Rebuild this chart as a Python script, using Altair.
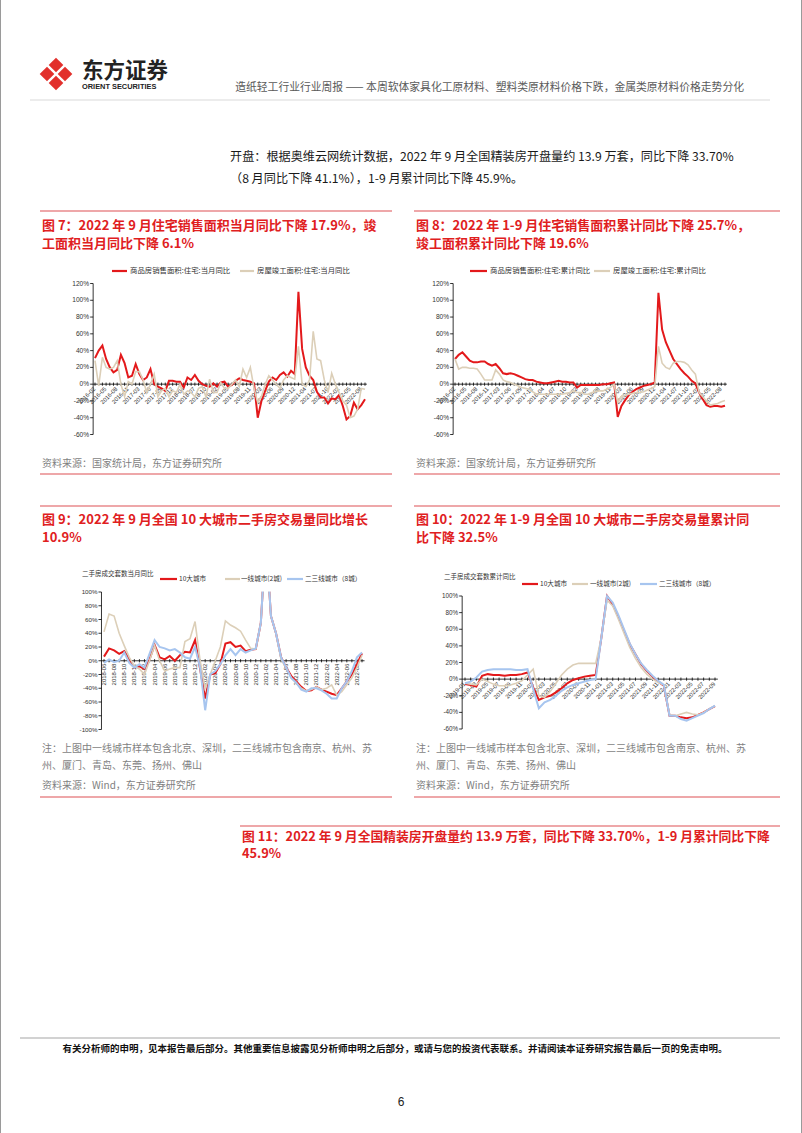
import altair as alt
import pandas as pd

W, H = 802, 1133
CJK = "Noto Sans CJK SC"
LAT = "Liberation Sans, Noto Sans CJK SC"
RED = "#e3191b"
TAN = "#dccfb8"
BLUE = "#a7c5ef"
TRED = "#e0201e"
PINK = "#e98a8c"
GRAY = "#7f7f7f"

# ---------------- data ----------------
# Fig 7 / Fig 8: monthly, 2016-02 .. 2022-09 (January merged into February)
fig7_sales = [31, 40, 46, 30, 20, 14, 17, 35, 25, 8, 10,
              24, 12, 5, 8, 18, 0, -3, -5, -8, 4, 4,
              3, 3, -4, 8, 5, 11, 4, 0, -2, -3, 1,
              -3, 2, 3, -3, -1, 4, 7, 5, 4, 3, 1,
              -40, -20, -8, 3, 8, 5, 11, 14, 9, 16, 12,
              110, 42, 20, 10, 5, -9, -16, -16, -23, -17, -18,
              -13, -26, -42, -38, -22, -30, -25, -17.9]
fig7_compl = [28, -2, 32, 20, 18, 20, 28, 0, -15, 3, 0,
              15, 15, 5, -10, 0, 12, -15, -8, -5, -15, -8,
              -10, 0, -12, -8, -10, -15, -5, -3, -15, 6, -10,
              -10, 2, -5, -5, 0, 5, -3, 18, 8, 20, -5,
              -22, -15, 0, 10, 5, 0, -5, 5, 10, 8, 6,
              45, 0, -3, 5, 63, 30, 28, 5, -10, 13, 0,
              -10, -20, -25, -40, -38, -30, -5, -6.1]
fig8_sales = [30, 35, 38, 33, 28, 26, 26, 27, 27, 24, 22,
              24, 19, 13, 12, 13, 12, 10, 8, 6, 5, 5,
              3, 2, 1, 1, 2, 3, 4, 3, 3, 2, 2,
              -4, -1, -1, -1, -1, -1, -1, 0, 0, 1, 2,
              -39, -26, -19, -13, -9, -6, -4, -2, -1, 0, 2,
              109, 65, 50, 40, 30, 24, 18, 13, 9, 4, 1,
              -10, -18, -25, -27, -26, -26, -27, -25.7]
fig8_compl = [30, 18, 20, 20, 19, 19, 18, 12, 5, 5, 5,
              17, 12, 5, 3, 2, 0, -2, -4, -5, -6, -9,
              -12, -12, -12, -12, -12, -12, -12, -12, -11, -10, -8,
              -10, -10, -12, -12, -10, -9, -8, -8, -6, -4, 0,
              -22, -15, -13, -12, -11, -10, -10, -9, -7, -5, -3,
              45, 25, 20, 18, 25, 27, 27, 26, 23, 17, 12,
              -10, -15, -20, -25, -24, -23, -21, -19.6]
fig78_label_idx = list(range(0, 74, 3))
fig78_labels = ["2016-02", "2016-05", "2016-08", "2016-11", "2017-03", "2017-06",
                "2017-09", "2017-12", "2018-04", "2018-07", "2018-10", "2019-02",
                "2019-05", "2019-08", "2019-11", "2020-03", "2020-06", "2020-09",
                "2020-12", "2021-04", "2021-07", "2021-10", "2022-02", "2022-05",
                "2022-08"]

# Fig 9: monthly 2018-06 .. 2022-09
fig9_top10 = [6, 18, 15, 10, 14, 2, -10, -8, -12, 2, 23, 5, 2, 7, 0, 8, 13, 12, 30, -12,
              -55, -20, -18, -5, 25, 27, 20, 22, 14, 16, 17, 55, 180, 65, 40, 5, -10, -22,
              -30, -38, -44, -43, -38, -42, -45, -48, -50, -40, -30, -20, -5, 10.9]
fig9_tier1 = [42, 68, 65, 40, 22, 5, -8, -12, -20, 0, 22, 0, -15, -12, -10, -10, 28, 32, 57, 0,
              -40, -20, 0, 20, 58, 52, 48, 43, 30, 18, 17, 55, 180, 65, 40, 2, -10, -25,
              -32, -40, -44, -42, -38, -42, -40, -35, -50, -45, -35, -25, -10, 8]
fig9_tier23 = [-3, 2, -2, 0, 12, -3, -10, -5, -10, 10, 30, 20, 18, 15, 17, 12, 5, 3, 20, -10,
               -72, -20, -15, -5, 8, 17, 8, 17, 12, 15, 18, 55, 180, 65, 40, 5, -10, -25,
               -32, -42, -45, -40, -40, -43, -48, -55, -55, -40, -30, -15, 5, 12]
fig9_label_idx = list(range(0, 52, 2))
fig9_labels = ["2018-06", "2018-08", "2018-10", "2018-12", "2019-02", "2019-04", "2019-06",
               "2019-08", "2019-10", "2019-12", "2020-02", "2020-04", "2020-06", "2020-08",
               "2020-10", "2020-12", "2021-02", "2021-04", "2021-06", "2021-08", "2021-10",
               "2021-12", "2022-02", "2022-04", "2022-06", "2022-08"]

# Fig 10: cumulative, 2019-01 .. 2022-09
fig10_top10 = [-6, -7, -9, 4, 6, 5, 5, 4, 5, 5, 6, 8,
               -10, -25, -22, -20, -16, -11, -5, -1, 1, 3, 4, 5,
               50, 100, 90, 75, 58, 42, 30, 18, 10, 3, -3, -8,
               -44, -44, -46, -47, -46, -43, -40, -36, -32.5]
fig10_tier1 = [-5, -6, -7, 0, -3, -6, -8, -8, -7, -5, -2, 5,
               12, -20, -22, -15, -5, 5, 12, 17, 19, 19, 19, 19,
               50, 95, 88, 72, 55, 38, 25, 14, 6, 0, -4, -7,
               -43, -44, -42, -40, -42, -43, -40, -36, -32]
fig10_tier23 = [-5, -3, 2, 9, 11, 12, 12, 12, 12, 11, 11, 12,
                -12, -35, -28, -25, -20, -14, -10, -7, -5, -3, -1, 0,
                50, 100, 92, 77, 60, 43, 30, 19, 11, 4, -2, -7,
                -44, -44, -48, -50, -47, -44, -41, -36, -32]
fig10_label_idx = list(range(0, 45, 2))
fig10_labels = ["2019-01", "2019-03", "2019-05", "2019-07", "2019-09", "2019-11",
                "2020-01", "2020-03", "2020-05", "2020-07", "2020-09", "2020-11",
                "2021-01", "2021-03", "2021-05", "2021-07", "2021-09", "2021-11",
                "2022-01", "2022-03", "2022-05", "2022-07", "2022-09"]

# ---------------- helpers ----------------
PX = alt.Scale(domain=[0, W], range=[0, W], nice=False, zero=False)
PY = alt.Scale(domain=[0, H], range=[0, H], nice=False, zero=False)
layers = []


def page_text(rows, size, color="#000000", weight="normal", align="left", font=CJK):
    df = pd.DataFrame(rows, columns=["x", "y", "t"])
    layers.append(alt.Chart(df).mark_text(align=align, baseline="middle", fontSize=size,
                                          color=color, fontWeight=weight, font=font).encode(
        x=alt.X("x:Q", scale=PX, axis=None), y=alt.Y("y:Q", scale=PY, axis=None), text="t:N"))


def page_rules(rows, color, width):
    df = pd.DataFrame(rows, columns=["x", "x2", "y", "y2"])
    layers.append(alt.Chart(df).mark_rule(color=color, strokeWidth=width).encode(
        x=alt.X("x:Q", scale=PX, axis=None), x2="x2:Q",
        y=alt.Y("y:Q", scale=PY, axis=None), y2="y2:Q"))


def panel(n, xr, ydom, yr, yticks, series, lab_idx, lab_txt, angle, lab_dx, lab_dy,
          lab_size, ylab_size, mask=None):
    xs = alt.Scale(domain=[0, n - 1], range=xr, nice=False, zero=False)
    ys = alt.Scale(domain=ydom, range=yr, nice=False, zero=False)
    step = (xr[1] - xr[0]) / (n - 1)
    ppu = abs(yr[0] - yr[1]) / (ydom[1] - ydom[0])
    ax = -0.5

    def X(f):
        return alt.X(f, scale=xs, axis=None)

    def Y(f):
        return alt.Y(f, scale=ys, axis=None)

    # y axis
    df = pd.DataFrame({"x": [ax], "y": [ydom[0]], "y2": [ydom[1]]})
    layers.append(alt.Chart(df).mark_rule(color="#000000", strokeWidth=0.8).encode(
        x=X("x:Q"), y=Y("y:Q"), y2="y2:Q"))
    df = pd.DataFrame({"x": [ax] * len(yticks), "x2": [ax - 3.0 / step] * len(yticks), "y": yticks})
    layers.append(alt.Chart(df).mark_rule(color="#000000", strokeWidth=0.8).encode(
        x=X("x:Q"), x2="x2:Q", y=Y("y:Q")))
    df = pd.DataFrame({"x": [ax] * len(yticks), "y": yticks, "t": [f"{v}%" for v in yticks]})
    layers.append(alt.Chart(df).mark_text(align="right", baseline="middle", dx=-4,
                                          fontSize=ylab_size, font=LAT, color="#333333").encode(
        x=X("x:Q"), y=Y("y:Q"), text="t:N"))
    # x axis (at zero)
    df = pd.DataFrame({"x": [ax], "x2": [n - 0.5], "y": [0]})
    layers.append(alt.Chart(df).mark_rule(color="#000000", strokeWidth=0.8).encode(
        x=X("x:Q"), x2="x2:Q", y=Y("y:Q")))
    d = 1.6 / ppu
    df = pd.DataFrame({"x": list(range(n)), "y": [-d] * n, "y2": [d] * n})
    layers.append(alt.Chart(df).mark_rule(color="#000000", strokeWidth=0.8).encode(
        x=X("x:Q"), y=Y("y:Q"), y2="y2:Q"))
    df = pd.DataFrame({"x": lab_idx, "y": [0] * len(lab_idx), "t": lab_txt})
    layers.append(alt.Chart(df).mark_text(align="right", baseline="middle", angle=angle,
                                          dx=lab_dx, dy=lab_dy, fontSize=lab_size, font=LAT,
                                          color="#333333").encode(
        x=X("x:Q"), y=Y("y:Q"), text="t:N"))
    # series
    for vals, color, w in series:
        df = pd.DataFrame({"i": list(range(n)), "v": vals})
        layers.append(alt.Chart(df).mark_line(color=color, strokeWidth=w).encode(
            x=X("i:Q"), y=Y("v:Q")))
    if mask is not None:
        df = pd.DataFrame({"x": [mask[0]], "x2": [mask[1]], "y": [mask[2]], "y2": [mask[3]]})
        layers.append(alt.Chart(df).mark_rect(color="#ffffff").encode(
            x=X("x:Q"), x2="x2:Q", y=Y("y:Q"), y2="y2:Q"))


# ---------------- panels ----------------
t78 = [-60, -40, -20, 0, 20, 40, 60, 80, 100, 120]
panel(74, [95, 365], [-60, 120], [434.5, 283.5], t78,
      [(fig7_sales, RED, 2.0), (fig7_compl, TAN, 1.6)],
      fig78_label_idx, fig78_labels, 315, -3.2, 2.2, 5.8, 6.6)
panel(74, [455, 725], [-60, 120], [434.5, 283.5], t78,
      [(fig8_sales, RED, 2.0), (fig8_compl, TAN, 1.6)],
      fig78_label_idx, fig78_labels, 315, -3.2, 2.2, 5.8, 6.6)
t9 = [-100, -80, -60, -40, -20, 0, 20, 40, 60, 80, 100]
panel(52, [104, 362], [-100, 100], [729.5, 592], t9,
      [(fig9_top10, RED, 2.0), (fig9_tier1, TAN, 1.6), (fig9_tier23, BLUE, 2.0)],
      fig9_label_idx, fig9_labels, 270, -3, 0, 5.9, 6.2, mask=[29.5, 34.5, 100.6, 260])
t10 = [-60, -40, -20, 0, 20, 40, 60, 80, 100]
panel(45, [465, 715], [-60, 100], [729, 596], t10,
      [(fig10_top10, RED, 2.0), (fig10_tier1, TAN, 1.6), (fig10_tier23, BLUE, 2.0)],
      fig10_label_idx, fig10_labels, 315, -3.2, 2.2, 5.8, 6.3)

# ---------------- legends ----------------
page_rules([[112, 127, 271, 271], [470, 487, 271, 271], [160, 177, 579, 579], [522, 538, 584, 584]], RED, 2.2)
page_rules([[240, 254, 271, 271], [594, 610, 271, 271], [225, 240, 579, 579], [572, 588, 584, 584]], TAN, 2.2)
page_rules([[287, 303, 579, 579], [640, 657, 584, 584]], BLUE, 2.2)
page_text([[130, 271, "商品房销售面积:住宅:当月同比"], [257, 271, "房屋竣工面积:住宅:当月同比"],
           [490, 271, "商品房销售面积:住宅:累计同比"], [613, 271, "房屋竣工面积:住宅:累计同比"]],
          7.4, color="#333333")
page_text([[82, 574, "二手房成交套数当月同比"], [444, 577, "二手房成交套数累计同比"]],
          6.5, color="#333333")
page_text([[179, 579, "10大城市"], [241, 579, "一线城市(2城)"], [305, 579, "二三线城市（8城）"],
           [540, 584, "10大城市"], [590, 584, "一线城市(2城)"], [659, 584, "二三线城市（8城）"]],
          6.6, color="#333333")

# ---------------- page furniture ----------------
# border
page_rules([[0.5, 0.5, 0, H], [801.5, 801.5, 0, H]], "#9a9a9a", 1)
# logo
logo = pd.DataFrame({"x": [56, 56, 47, 65], "y": [65, 83, 74, 74]})
layers.append(alt.Chart(logo).mark_point(shape="diamond", filled=True, size=215, opacity=1,
                                         color="#e2302c").encode(
    x=alt.X("x:Q", scale=PX, axis=None), y=alt.Y("y:Q", scale=PY, axis=None)))
page_text([[82, 72, "东方证券"]], 21.5, color="#222222", weight="bold")
page_text([[82, 87, "ORIENT SECURITIES"]], 7.4, color="#222222", weight="bold", font=LAT)
page_text([[744, 88, "造纸轻工行业行业周报 —— 本周软体家具化工原材料、塑料类原材料价格下跌，金属类原材料价格走势分化"]],
          10.8, color="#5a5a5a", align="right")
page_rules([[30, 770, 100, 100]], "#d9d9d9", 1)

page_text([[230, 157, "开盘：根据奥维云网统计数据，2022 年 9 月全国精装房开盘量约 13.9 万套，同比下降 33.70%"],
           [230, 179, "（8 月同比下降 41.1%），1-9 月累计同比下降 45.9%。"]], 12.15, color="#1a1a1a")

# figure header lines and source lines
page_rules([[40, 392, 211, 211], [414, 780, 211, 211], [40, 392, 474, 474], [414, 780, 474, 474],
            [40, 392, 506, 506], [414, 780, 506, 506], [40, 392, 797, 797], [414, 780, 797, 797],
            [240, 780, 826, 826]], PINK, 1.3)

page_text([[42, 226, "图 7：2022 年 9 月住宅销售面积当月同比下降 17.9%，竣"],
           [42, 244, "工面积当月同比下降 6.1%"],
           [416, 226, "图 8：2022 年 1-9 月住宅销售面积累计同比下降 25.7%，"],
           [416, 244, "竣工面积累计同比下降 19.6%"],
           [42, 520, "图 9：2022 年 9 月全国 10 大城市二手房交易量同比增长"],
           [42, 538, "10.9%"],
           [416, 520, "图 10：2022 年 1-9 月全国 10 大城市二手房交易量累计同"],
           [416, 538, "比下降 32.5%"]], 13.0, color=TRED, weight="bold")
page_text([[242, 837, "图 11：2022 年 9 月全国精装房开盘量约 13.9 万套，同比下降 33.70%，1-9 月累计同比下降"],
           [242, 854, "45.9%"]], 12.8, color=TRED, weight="bold")

page_text([[42, 464, "资料来源：国家统计局，东方证券研究所"], [416, 464, "资料来源：国家统计局，东方证券研究所"],
           [42, 786, "资料来源：Wind，东方证券研究所"], [416, 786, "资料来源：Wind，东方证券研究所"]],
          10.0, color=GRAY)
page_text([[42, 749, "注：上图中一线城市样本包含北京、深圳，二三线城市包含南京、杭州、苏"],
           [42, 766, "州、厦门、青岛、东莞、扬州、佛山"],
           [416, 749, "注：上图中一线城市样本包含北京、深圳，二三线城市包含南京、杭州、苏"],
           [416, 766, "州、厦门、青岛、东莞、扬州、佛山"]], 10.0, color=GRAY)

# footer
page_rules([[20, 780, 1038, 1038]], "#a6a6a6", 1.2)
page_text([[395, 1049, "有关分析师的申明，见本报告最后部分。其他重要信息披露见分析师申明之后部分，或请与您的投资代表联系。并请阅读本证券研究报告最后一页的免责申明。"]],
          9.5, color="#111111", weight="bold", align="center")
page_text([[401, 1102, "6"]], 12, color="#222222", align="center", font=LAT)

chart = alt.layer(*layers).resolve_scale(x="independent", y="independent").properties(
    width=W, height=H, autosize="none", padding=0, background="#ffffff"
).configure_view(stroke=None)

chart.save("out.html", embed_options={"renderer": "svg", "actions": False})
